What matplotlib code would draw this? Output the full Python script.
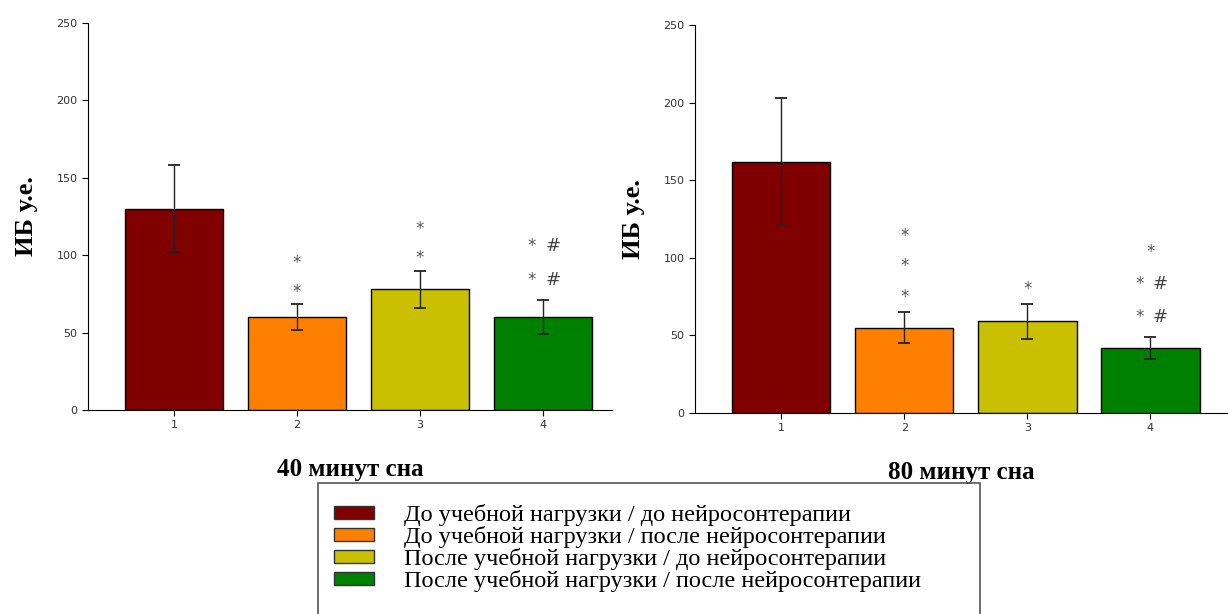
import matplotlib.pyplot as plt
from matplotlib.patches import Rectangle, Patch

groups = [1, 2, 3, 4]
colors = ['#800000', '#ff8000', '#c8c000', '#008000']
legend_labels = [
    'До учебной нагрузки / до нейросонтерапии',
    'До учебной нагрузки / после нейросонтерапии',
    'После учебной нагрузки / до нейросонтерапии',
    'После учебной нагрузки / после нейросонтерапии',
]

# 40 minutes of sleep
means_40 = [130, 60, 78, 60]
err_40 = [28, 8.5, 12, 11]
marks_40 = [[], [(76, '*'), (95, '*')], [(98, '*'), (117, '*')],
            [(84, '*#'), (106, '*#')]]

# 80 minutes of sleep
means_80 = [162, 55, 59, 42]
err_80 = [41, 10, 11, 7]
marks_80 = [[], [(75, '*'), (95, '*'), (114, '*')], [(80, '*')],
            [(62, '*#'), (83, '*#'), (104, '*')]]

fig = plt.figure(figsize=(12.28, 6.14), dpi=100)
ax1 = fig.add_axes([88 / 1228, 1 - 410 / 614, 524 / 1228, 387 / 614])
ax2 = fig.add_axes([695 / 1228, 1 - 413 / 614, 533 / 1228, 388 / 614])

serif = 'Liberation Serif'


def draw(ax, means, errs, marks, xlabel, xmax):
    ax.bar(groups, means, width=0.8, color=colors, edgecolor='black', linewidth=1)
    ax.errorbar(groups, means, yerr=errs, fmt='none', ecolor='#222222',
                elinewidth=1, capsize=4.5, capthick=1.3)
    for g, mk in zip(groups, marks):
        for y, s in mk:
            if s == '*':
                ax.text(g, y, '*', ha='center', va='center', fontsize=12,
                        color='#555555')
            else:
                ax.text(g - 0.09, y, '*', ha='center', va='center', fontsize=12,
                        color='#555555')
                ax.text(g + 0.08, y, '#', ha='center', va='center', fontsize=13,
                        color='#444444')
    ax.set_xlim(0.3, xmax)
    ax.set_ylim(0, 250)
    ax.set_xticks(groups)
    ax.set_yticks([0, 50, 100, 150, 200, 250])
    for s in ['top', 'right']:
        ax.spines[s].set_visible(False)
    ax.tick_params(direction='out', length=4, labelsize=8, labelcolor='#333333')
    ax.set_ylabel('ИБ у.е.', family=serif, fontweight='bold', fontsize=19, labelpad=13)
    ax.set_xlabel(xlabel, family=serif, fontweight='bold', fontsize=18, labelpad=20)


draw(ax1, means_40, err_40, marks_40, '40 минут сна', 4.56)
draw(ax2, means_80, err_80, marks_80, '80 минут сна', 4.63)

handles = [Patch(facecolor=c, edgecolor='#333333') for c in colors]
fig.legend(handles, legend_labels, loc='upper left',
           bbox_to_anchor=(324 / 1228, 1 - 494 / 614), frameon=False,
           prop={'family': serif, 'size': 17.5}, labelspacing=0.0,
           handlelength=1.65, handleheight=0.45, handletextpad=1.23,
           borderaxespad=0)
fig.patches.append(Rectangle((318 / 1228, -0.01), 662 / 1228, 1 - 483 / 614 + 0.01,
                             transform=fig.transFigure, fill=False,
                             edgecolor='#555555', linewidth=1.2))

fig.savefig('out.png', dpi=100)
